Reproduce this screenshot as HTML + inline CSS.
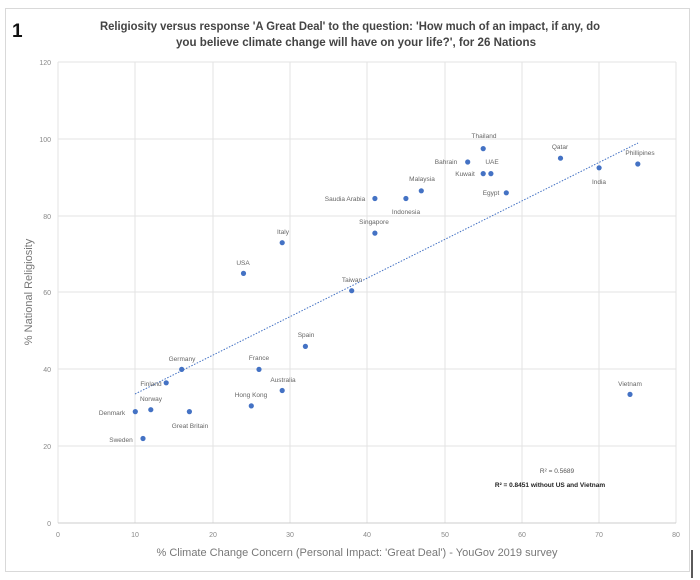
<!DOCTYPE html>
<html><head><meta charset="utf-8"><style>
html,body{margin:0;padding:0;background:#fff;}
svg{display:block;font-family:"Liberation Sans",sans-serif;}
</style></head><body>
<svg width="700" height="580" viewBox="0 0 700 580">
<rect x="5.5" y="8.5" width="684" height="563" fill="#fff" stroke="#d9d9d9"/>
<line x1="692" y1="550" x2="692" y2="578" stroke="#222" stroke-width="1.5"/>
<text x="12" y="37" font-size="19" font-weight="bold" fill="#111">1</text>
<g font-size="11.5" font-weight="bold" fill="#444" text-anchor="middle">
<text x="350" y="30" textLength="500" lengthAdjust="spacingAndGlyphs">Religiosity versus response 'A Great Deal' to the question: 'How much of an impact, if any, do</text>
<text x="356" y="46" textLength="360" lengthAdjust="spacingAndGlyphs">you believe climate change will have on your life?', for 26 Nations</text>
</g>
<g stroke="#e3e3e3" stroke-width="1">
<line x1="58" y1="62" x2="676" y2="62"/><line x1="58" y1="139" x2="676" y2="139"/>
<line x1="58" y1="216" x2="676" y2="216"/><line x1="58" y1="292" x2="676" y2="292"/>
<line x1="58" y1="369" x2="676" y2="369"/><line x1="58" y1="446" x2="676" y2="446"/>
<line x1="135" y1="62" x2="135" y2="523"/><line x1="213" y1="62" x2="213" y2="523"/>
<line x1="290" y1="62" x2="290" y2="523"/><line x1="367" y1="62" x2="367" y2="523"/>
<line x1="445" y1="62" x2="445" y2="523"/><line x1="522" y1="62" x2="522" y2="523"/>
<line x1="599" y1="62" x2="599" y2="523"/><line x1="676" y1="62" x2="676" y2="523"/>
<line x1="58" y1="62" x2="58" y2="523"/>
</g>
<line x1="58" y1="523" x2="676" y2="523" stroke="#ccc"/>
<g font-size="7" fill="#888" text-anchor="end">
<text x="51" y="65">120</text><text x="51" y="142">100</text><text x="51" y="219">80</text>
<text x="51" y="295">60</text><text x="51" y="372">40</text><text x="51" y="449">20</text><text x="51" y="526">0</text>
</g>
<g font-size="7" fill="#888" text-anchor="middle">
<text x="58" y="537">0</text><text x="135" y="537">10</text><text x="213" y="537">20</text><text x="290" y="537">30</text>
<text x="367" y="537">40</text><text x="445" y="537">50</text><text x="522" y="537">60</text><text x="599" y="537">70</text><text x="676" y="537">80</text>
</g>
<text x="357" y="556" font-size="11" fill="#777" text-anchor="middle">% Climate Change Concern (Personal Impact: 'Great Deal') - YouGov 2019 survey</text>
<text transform="translate(32,292) rotate(-90)" font-size="11" fill="#777" text-anchor="middle">% National Religiosity</text>
<line x1="135" y1="394" x2="638" y2="143" stroke="#4472c4" stroke-width="1" stroke-dasharray="1.5,1.5"/>
<g fill="#4472c4">
<circle cx="135.3" cy="411.6" r="2.6"/><circle cx="150.8" cy="409.7" r="2.6"/><circle cx="143" cy="438.5" r="2.6"/>
<circle cx="166.2" cy="382.8" r="2.6"/><circle cx="181.7" cy="369.4" r="2.6"/><circle cx="189.4" cy="411.6" r="2.6"/>
<circle cx="251.3" cy="405.9" r="2.6"/><circle cx="259" cy="369.4" r="2.6"/><circle cx="282.2" cy="390.5" r="2.6"/>
<circle cx="305.4" cy="346.4" r="2.6"/><circle cx="243.5" cy="273.4" r="2.6"/><circle cx="282.2" cy="242.7" r="2.6"/>
<circle cx="351.7" cy="290.7" r="2.6"/><circle cx="374.9" cy="233.1" r="2.6"/><circle cx="374.9" cy="198.5" r="2.6"/>
<circle cx="405.9" cy="198.5" r="2.6"/><circle cx="421.3" cy="190.8" r="2.6"/><circle cx="467.7" cy="162" r="2.6"/>
<circle cx="483.2" cy="148.6" r="2.6"/><circle cx="483.2" cy="173.6" r="2.6"/><circle cx="490.9" cy="173.6" r="2.6"/>
<circle cx="506.3" cy="192.8" r="2.6"/><circle cx="560.5" cy="158.2" r="2.6"/><circle cx="599.1" cy="167.8" r="2.6"/>
<circle cx="637.8" cy="164" r="2.6"/><circle cx="630" cy="394.4" r="2.6"/>
</g>
<g font-size="6.5" fill="#666" text-anchor="middle">
<text x="484" y="138">Thailand</text><text x="446" y="164">Bahrain</text><text x="492" y="164">UAE</text>
<text x="465" y="176">Kuwait</text><text x="422" y="181">Malaysia</text><text x="491" y="195">Egypt</text>
<text x="560" y="149">Qatar</text><text x="599" y="184">India</text><text x="640" y="155">Phillipines</text>
<text x="345" y="201">Saudia Arabia</text><text x="406" y="214">Indonesia</text><text x="374" y="224">Singapore</text>
<text x="283" y="234">Italy</text><text x="243" y="265">USA</text><text x="352" y="282">Taiwan</text>
<text x="306" y="337">Spain</text><text x="182" y="361">Germany</text><text x="259" y="360">France</text>
<text x="283" y="382">Australia</text><text x="251" y="397">Hong Kong</text><text x="151" y="386">Finland</text>
<text x="151" y="401">Norway</text><text x="112" y="415">Denmark</text><text x="190" y="428">Great Britain</text>
<text x="121" y="442">Sweden</text><text x="630" y="386">Vietnam</text>
</g>
<text x="557" y="473" font-size="6.5" fill="#555" text-anchor="middle">R² = 0.5689</text>
<text x="550" y="487" font-size="6.5" font-weight="bold" fill="#222" text-anchor="middle">R² = 0.8451 without US and Vietnam</text>
</svg>
</body></html>
